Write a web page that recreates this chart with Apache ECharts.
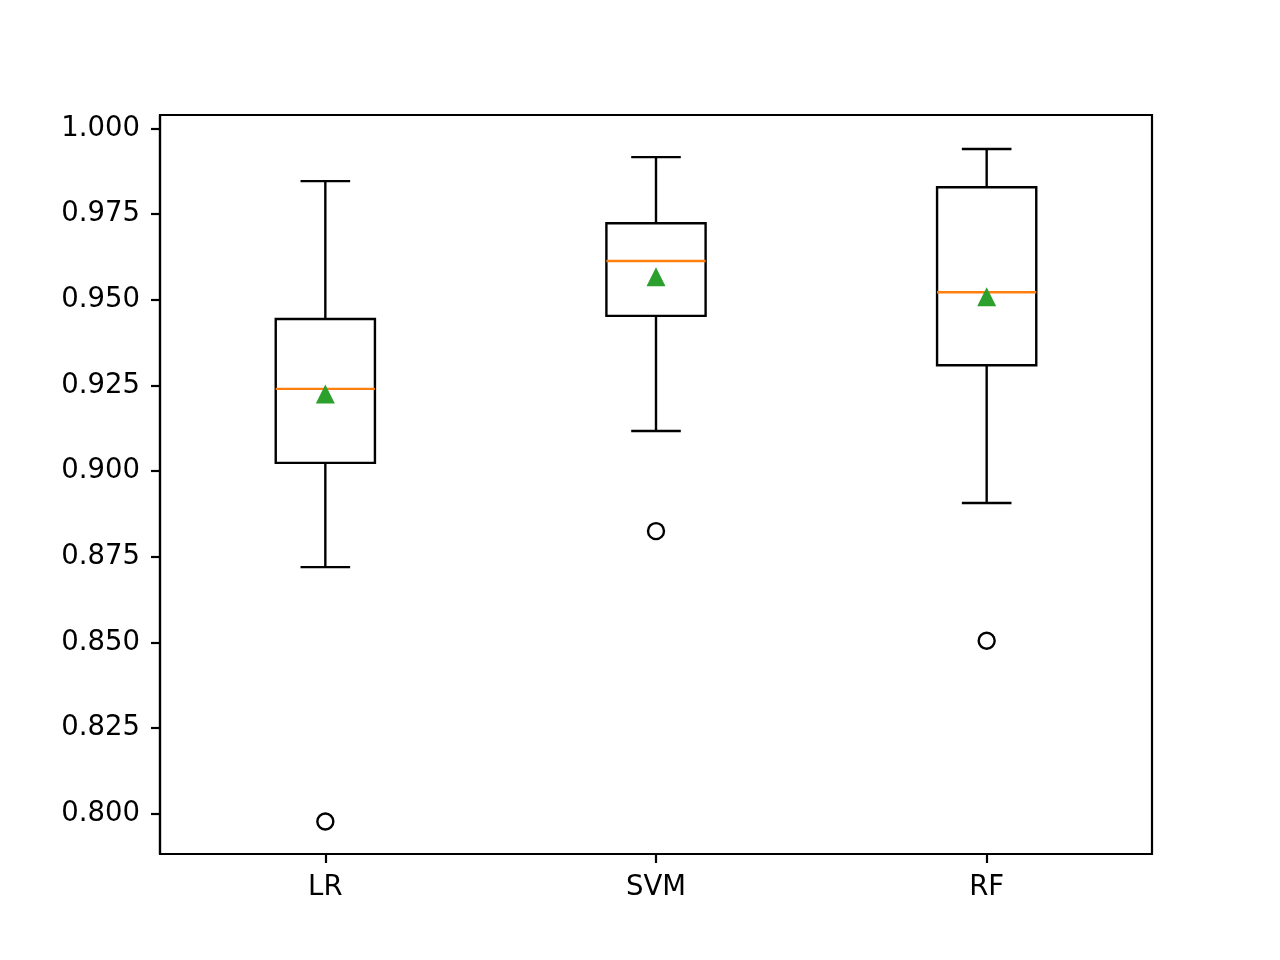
<!DOCTYPE html>
<html>
<head>
<meta charset="utf-8">
<script src="https://cdn.jsdelivr.net/npm/echarts@6/dist/echarts.min.js"></script>
<style>html,body{margin:0;padding:0;background:#fff}#chart{width:1280px;height:960px}</style>
</head>
<body>
<div id="chart"></div>
<script>
const categories = ['LR', 'SVM', 'RF'];
// [lower whisker, Q1, median, Q3, upper whisker]
const lowerWhisker = [0.8720, 0.9117, 0.8907];
const q1Values     = [0.9024, 0.9453, 0.9309];
const medianValues = [0.9240, 0.9613, 0.9522];
const q3Values     = [0.9444, 0.9723, 0.9828];
const upperWhisker = [0.9846, 0.9916, 0.9940];
const meanValues   = [0.9225, 0.9567, 0.9509];
const outlierValues = [0.7978, 0.8825, 0.8505];
const yMin = 0.7883, yMax = 1.0039, yStep = 0.025;

const boxData = categories.map((c, i) => [i, lowerWhisker[i], q1Values[i], medianValues[i], q3Values[i], upperWhisker[i]]);
const meanData = categories.map((c, i) => [i, meanValues[i]]);
const outlierData = categories.map((c, i) => [i, outlierValues[i]]);

const FONT = 'DejaVu Sans';
const LW = 2.4;

const chart = echarts.init(document.getElementById('chart'), null, {renderer: 'canvas'});
chart.setOption({
  animation: false,
  backgroundColor: '#fff',
  grid: {left: 160, right: 128, top: 115, bottom: 106, show: true, borderColor: '#000', borderWidth: 2.2, backgroundColor: 'transparent'},
  xAxis: {
    type: 'category',
    data: categories,
    boundaryGap: true,
    axisLine: {show: true, lineStyle: {color: '#000', width: 2.2}},
    axisTick: {show: true, alignWithLabel: true, length: 9, lineStyle: {color: '#000', width: 2.2}},
    axisLabel: {color: '#000', fontFamily: FONT, fontSize: 27.5, margin: 20},
    splitLine: {show: false}
  },
  yAxis: {
    type: 'value',
    min: yMin, max: yMax,
    minInterval: yStep, maxInterval: yStep,
    axisLine: {show: true, lineStyle: {color: '#000', width: 2.2}},
    axisTick: {show: true, length: 9, lineStyle: {color: '#000', width: 2.2}},
    axisLabel: {color: '#000', fontFamily: FONT, fontSize: 27.5, margin: 20, showMinLabel: false, showMaxLabel: false,
      formatter: v => (Math.abs(v / yStep - Math.round(v / yStep)) < 1e-6 ? v.toFixed(3) : '')},
    splitLine: {show: false}
  },
  series: [
    {
      type: 'custom',
      data: boxData,
      encode: {x: 0, y: [1, 2, 3, 4, 5]},
      z: 2,
      renderItem: function (params, api) {
        const x = api.value(0);
        const lo = api.coord([x, api.value(1)]);
        const q1 = api.coord([x, api.value(2)]);
        const md = api.coord([x, api.value(3)]);
        const q3 = api.coord([x, api.value(4)]);
        const hi = api.coord([x, api.value(5)]);
        const band = api.size([1, 0])[0];
        const bw = band * 0.3, cw = band * 0.15;
        const cx = lo[0];
        const blk = {stroke: '#000', lineWidth: LW, fill: null};
        return {
          type: 'group',
          children: [
            {type: 'line', shape: {x1: cx, y1: q3[1], x2: cx, y2: hi[1]}, style: blk},
            {type: 'line', shape: {x1: cx, y1: q1[1], x2: cx, y2: lo[1]}, style: blk},
            {type: 'line', shape: {x1: cx - cw / 2, y1: hi[1], x2: cx + cw / 2, y2: hi[1]}, style: blk},
            {type: 'line', shape: {x1: cx - cw / 2, y1: lo[1], x2: cx + cw / 2, y2: lo[1]}, style: blk},
            {type: 'rect', shape: {x: cx - bw / 2, y: q3[1], width: bw, height: q1[1] - q3[1]}, style: {stroke: '#000', lineWidth: LW, fill: 'none'}},
            {type: 'line', shape: {x1: cx - bw / 2, y1: md[1], x2: cx + bw / 2, y2: md[1]}, style: {stroke: '#ff7f0e', lineWidth: LW}}
          ]
        };
      }
    },
    {
      type: 'scatter',
      data: outlierData,
      symbol: 'circle',
      symbolSize: 16,
      z: 3,
      itemStyle: {color: 'rgba(0,0,0,0)', borderColor: '#000', borderWidth: 2.4, opacity: 1}
    },
    {
      type: 'scatter',
      data: meanData,
      symbol: 'triangle',
      symbolSize: 19,
      z: 4,
      itemStyle: {color: '#2ca02c', opacity: 1}
    }
  ]
});
</script>
</body>
</html>
